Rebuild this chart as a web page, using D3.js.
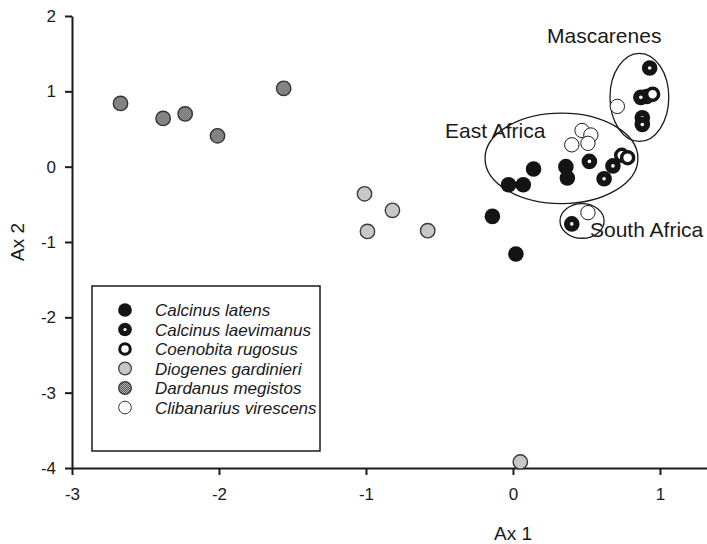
<!DOCTYPE html>
<html>
<head>
<meta charset="utf-8">
<script src="https://cdn.jsdelivr.net/npm/d3@7"></script>
<style>
  body { margin: 0; background: #fff; }
  svg { display: block; font-family: "Liberation Sans", Arial, sans-serif; }
  .axis path, .axis line { stroke: #1a1a1a; stroke-width: 2; }
  .axis text { font-size: 17px; fill: #1a1a1a; }
</style>
</head>
<body>
<script>
// Ordination scores (Ax 1, Ax 2)
var calcinusLatens = [[0.14, -0.03], [-0.03, -0.24], [0.07, -0.24], [0.36, 0.00], [0.37, -0.15], [-0.14, -0.66], [0.02, -1.16]];
var calcinusLaevimanus = [[0.93, 1.31], [0.87, 0.92], [0.88, 0.65], [0.88, 0.56], [0.52, 0.07], [0.62, -0.16], [0.68, 0.01], [0.40, -0.76]];
var coenobitaRugosus = [[0.91, 0.93], [0.95, 0.96], [0.74, 0.15], [0.78, 0.12]];
var diogenesGardinieri = [[-1.01, -0.36], [-0.82, -0.58], [-0.99, -0.86], [-0.58, -0.85], [0.05, -3.92]];
var dardanusMegistos = [[-2.67, 0.84], [-2.38, 0.64], [-2.23, 0.70], [-2.01, 0.41], [-1.56, 1.04]];
var clibanariusVirescens = [[0.71, 0.80], [0.47, 0.48], [0.53, 0.42], [0.40, 0.29], [0.51, 0.31], [0.51, -0.61]];

var speciesNames = ["Calcinus latens", "Calcinus laevimanus", "Coenobita rugosus", "Diogenes gardinieri", "Dardanus megistos", "Clibanarius virescens"];
var xTicks = [-3, -2, -1, 0, 1];
var yTicks = [2, 1, 0, -1, -2, -3, -4];

// region ellipses: [label, cx, cy, rx, ry] in axis units
var regions = [
  ["Mascarenes", 0.86, 0.92, 0.20, 0.585],
  ["East Africa", 0.33, 0.11, 0.52, 0.60],
  ["South Africa", 0.47, -0.72, 0.15, 0.23]
];

var w = 707, h = 544;
var x0 = 72, yTop = 16, yBottom = 468;

var svg = d3.select("body").append("svg")
  .attr("width", w)
  .attr("height", h);

// dithered fills for the two grey species
var defs = svg.append("defs");
function hatch(id, base, dot) {
  var p = defs.append("pattern").attr("id", id)
    .attr("width", 2).attr("height", 2).attr("patternUnits", "userSpaceOnUse");
  p.append("rect").attr("width", 2).attr("height", 2).attr("fill", base);
  p.append("rect").attr("width", 1).attr("height", 1).attr("fill", dot);
  p.append("rect").attr("x", 1).attr("y", 1).attr("width", 1).attr("height", 1).attr("fill", dot);
}
hatch("lightHatch", "#e4e4e4", "#aaaaaa");
hatch("darkHatch", "#a8a8a8", "#5e5e5e");

var xScale = d3.scaleLinear().domain([-3, 1.32]).range([x0, w]);
var yScale = d3.scaleLinear().domain([-4, 2]).range([yBottom, yTop]);

var xAxis = d3.axisBottom(xScale).tickValues(xTicks).tickFormat(d3.format("d"))
  .tickSizeInner(7).tickSizeOuter(0).tickPadding(13);
var yAxis = d3.axisLeft(yScale).tickValues(yTicks).tickFormat(d3.format("d"))
  .tickSizeInner(7).tickSizeOuter(0).tickPadding(9);

svg.append("g").attr("class", "axis")
  .attr("transform", "translate(0," + yBottom + ")")
  .call(xAxis);
svg.append("g").attr("class", "axis")
  .attr("transform", "translate(" + x0 + ",0)")
  .call(yAxis);
svg.selectAll(".axis text").text(function () { return this.textContent.replace("\u2212", "-"); });

svg.append("text")
  .attr("x", xScale(0)).attr("y", 540)
  .attr("text-anchor", "middle")
  .style("font-size", "19px").style("fill", "#1a1a1a")
  .text("Ax 1");
svg.append("text")
  .attr("transform", "translate(24," + yScale(-1) + ") rotate(-90)")
  .attr("text-anchor", "middle")
  .style("font-size", "19px").style("fill", "#1a1a1a")
  .text("Ax 2");

// ellipses around regions
svg.selectAll("ellipse.region")
  .data(regions)
  .enter().append("ellipse")
  .attr("class", "region")
  .attr("cx", d => xScale(d[1]))
  .attr("cy", d => yScale(d[2]))
  .attr("rx", d => xScale(d[1] + d[3]) - xScale(d[1]))
  .attr("ry", d => yScale(d[2] - d[4]) - yScale(d[2]))
  .attr("fill", "none")
  .attr("stroke", "#1a1a1a")
  .attr("stroke-width", 1.3);

// marker drawing
var styles = [
  { r: 7.8, fill: "#141414", stroke: "none", sw: 0, dot: false },
  { r: 7.8, fill: "#141414", stroke: "none", sw: 0, dot: true },
  { r: 6, fill: "#fff", stroke: "#141414", sw: 3.5, dot: false },
  { r: 7.2, fill: "url(#lightHatch)", stroke: "#3a3a3a", sw: 1.4, dot: false },
  { r: 7.2, fill: "url(#darkHatch)", stroke: "#333", sw: 1.4, dot: false },
  { r: 7.2, fill: "#fff", stroke: "#1a1a1a", sw: 1, dot: false }
];

function drawMarker(g, st, scale) {
  scale = scale || 1;
  g.append("circle")
    .attr("r", st.r * scale)
    .attr("fill", st.fill)
    .attr("stroke", st.stroke)
    .attr("stroke-width", st.sw * scale);
  if (st.dot) {
    g.append("circle").attr("r", 1.8 * scale).attr("fill", "#fff");
  }
}

var allSeries = [calcinusLatens, calcinusLaevimanus, coenobitaRugosus, diogenesGardinieri, dardanusMegistos, clibanariusVirescens];
var drawOrder = [5, 4, 3, 0, 2, 1];

drawOrder.forEach(function (si) {
  svg.append("g").selectAll("g")
    .data(allSeries[si])
    .enter().append("g")
    .attr("transform", d => "translate(" + xScale(d[0]) + "," + yScale(d[1]) + ")")
    .each(function () { drawMarker(d3.select(this), styles[si]); });
});

// region labels
var labelPos = [[547, 43], [445, 138], [590, 237]];
svg.selectAll("text.region")
  .data(regions)
  .enter().append("text")
  .attr("class", "region")
  .attr("x", (d, i) => labelPos[i][0])
  .attr("y", (d, i) => labelPos[i][1])
  .style("font-size", "21px").style("fill", "#1a1a1a")
  .text(d => d[0]);

// legend
var legend = svg.append("g");
legend.append("rect")
  .attr("x", 92).attr("y", 286)
  .attr("width", 228).attr("height", 165)
  .attr("fill", "#fff")
  .attr("stroke", "#1a1a1a")
  .attr("stroke-width", 1.5);

var rows = legend.selectAll("g.row")
  .data(speciesNames)
  .enter().append("g")
  .attr("class", "row")
  .attr("transform", (d, i) => "translate(125," + (310 + i * 19.5) + ")");
rows.each(function (d, i) { drawMarker(d3.select(this), styles[i], 0.88); });
rows.append("text")
  .attr("x", 30).attr("dy", "0.36em")
  .style("font-size", "17px").style("font-style", "italic").style("fill", "#1a1a1a")
  .text(d => d);
</script>
</body>
</html>
